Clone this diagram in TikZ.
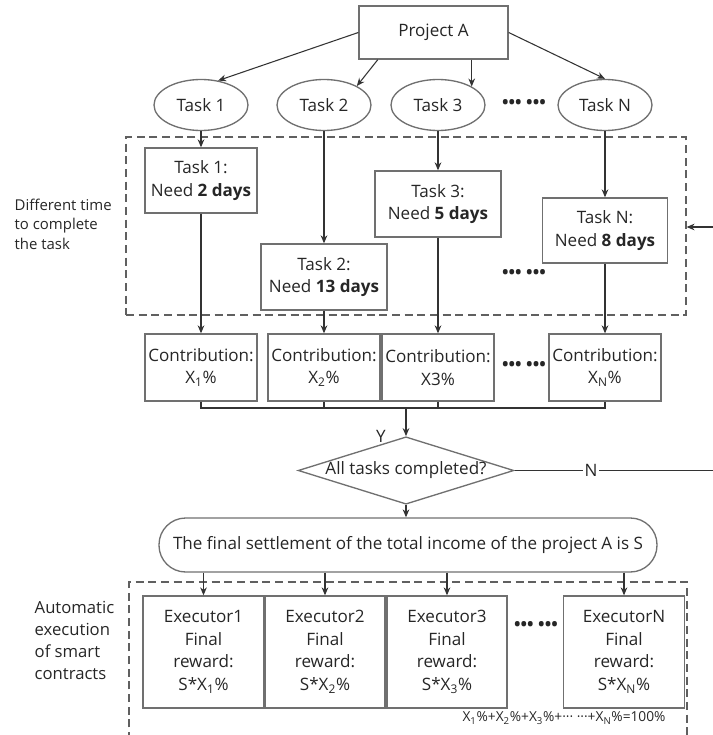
\documentclass[tikz,border=0pt]{standalone}
\usepackage{fontspec}
\setmainfont{Open Sans}
\usetikzlibrary{arrows.meta,shapes.geometric}

\begin{document}
\begin{tikzpicture}[x=0.75pt,y=0.75pt,yscale=-1,
  font=\fontsize{12.8}{17}\selectfont,
  txt/.style={text={rgb,255:red,38;green,38;blue,38}},
  box/.style={draw={rgb,255:red,112;green,112;blue,112},line width=1pt,inner sep=0pt,align=center,txt},
  oval/.style={box,ellipse,minimum width=70.5pt,minimum height=38.25pt},
  taskbox/.style={box,minimum width=94.5pt,minimum height=49.5pt},
  contrib/.style={box,minimum width=84pt,minimum height=50.25pt},
  execbox/.style={box,minimum width=90.75pt,minimum height=84pt},
  dashline/.style={draw={rgb,255:red,96;green,96;blue,96},line width=0.9pt,dash pattern=on 6pt off 3.5pt},
  link/.style={draw={rgb,255:red,51;green,51;blue,51},line width=0.8pt},
  arr/.style={link,-{Stealth[length=6pt,width=5pt]}},
  dots/.style={txt,font=\fontsize{13}{13}\selectfont\bfseries},
  ]
\useasboundingbox (0,0) rectangle (713,735);

%Dashed frame (task times)
\node[dashline,inner sep=0pt,minimum width=420pt,minimum height=133.5pt] (timebox) at (406,226) {};
%Dashed frame (smart contracts), open at the bottom
\draw[dashline] (129,740) -- (129,582) -- (687,582) -- (687,740);

% Text Node
\node[box,minimum width=111.75pt,minimum height=39.75pt] (proj) at (433.5,32.5) {Project A};
% Task ellipses
\node[oval] (t1) at (201,105) {Task 1};
\node[oval] (t2) at (324,105) {Task 2};
\node[oval] (t3) at (438,105) {Task 3};
\node[oval] (tn) at (605,105) {Task N};
\node[dots] (dotsA) at (524,104) {••• •••};

% Text Node
\node[txt,align=left,anchor=west,font=\fontsize{11.2}{14.6}\selectfont] (timelbl) at (10,224) {Different time\\to complete\\the task};

% Task durations
\node[taskbox,minimum width=84pt,minimum height=48.75pt] (need1) at (201,180.5) {Task 1:\\Need \textbf{2 days}};
\node[taskbox] (need2) at (324,277) {Task 2:\\Need \textbf{13 days}};
\node[taskbox] (need3) at (438,204) {Task 3:\\Need \textbf{5 days}};
\node[taskbox,minimum width=93.75pt,minimum height=48.75pt] (needn) at (605,230.5) {Task N:\\Need \textbf{8 days}};
\node[dots] (dotsB) at (524,274) {••• •••};

% Contributions
\node[contrib] (c1) at (201,367.5) {Contribution:\\X\textsubscript{1}\%};
\node[contrib] (c2) at (324,367.5) {Contribution:\\X\textsubscript{2}\%};
\node[contrib] (c3) at (438,367.5) {Contribution:\\X3\%};
\node[contrib] (cn) at (605,367.5) {Contribution:\\X\textsubscript{N}\%};
\node[dots] (dotsC) at (524,366) {••• •••};

\coordinate (join) at (406,408);

% Decision
\node[box,diamond,aspect=3.2,minimum width=156.75pt,minimum height=48.75pt] (check) at (406,470.5) {All tasks completed?};
\node[txt] (yes) at (381,436) {Y};
\coordinate (nend) at (713,470.5);
\coordinate (back) at (713,227);

% Settlement
\node[box,rounded corners=20pt,minimum width=373.5pt,minimum height=40.5pt] (final) at (408,545) {The final settlement of the total income of the project A is S};

% Text Node
\node[txt,align=left,anchor=west,font=\fontsize{12.5}{16.5}\selectfont] (autolbl) at (30,640) {Automatic\\execution\\of smart\\contracts};

% Executors
\node[execbox] (e1) at (203.5,652) {Executor1\\Final\\reward:\\S*X\textsubscript{1}\%};
\node[execbox,minimum width=90pt] (e2) at (325,652) {Executor2\\Final\\reward:\\S*X\textsubscript{2}\%};
\node[execbox,minimum width=90pt] (e3) at (447,652) {Executor3\\Final\\reward:\\S*X\textsubscript{3}\%};
\node[execbox] (en) at (624,652) {ExecutorN\\Final\\reward:\\S*X\textsubscript{N}\%};
\node[dots] (dotsD) at (536,626) {••• •••};
\node[txt,font=\fontsize{10.3}{12}\selectfont] (sum) at (564,718) {X\textsubscript{1}\%+X\textsubscript{2}\%+X\textsubscript{3}\%+··· ···+X\textsubscript{N}\%=100\%};

%Straight Lines
\draw[arr] (proj.west) -- (t1.55);
\draw[arr] (proj.-154) -- (t2.30);
\draw[arr] (t3.north east |- proj.south) -- (t3.north east);
\draw[arr] (proj.east) -- (tn.north);
\foreach \a/\b/\c in {t1/need1/c1,t2/need2/c2,t3/need3/c3,tn/needn/cn}{
  \draw[arr] (\a.south) -- (\b.north);
  \draw[arr] (\b.south) -- (\c.north);
}
\draw[link] (c1.south) -- (c1.south |- join) -| (cn.south);
\draw[link] (c2.south) -- (c2.south |- join);
\draw[link] (c3.south) -- (c3.south |- join);
\draw[arr,line width=1.5pt] (join) -- (check.north);
\draw[link] (check.east) -- (nend);
\node[txt,fill=white,inner sep=1pt] (no) at (591,470.5) {N};
\draw[arr] (back) -- (back -| timebox.east);
\draw[arr] (check.south) -- (check.south |- final.north);
\foreach \e in {e1,e2,e3,en}
  \draw[arr] (\e.north |- final.south) -- (\e.north);

\end{tikzpicture}
\end{document}
